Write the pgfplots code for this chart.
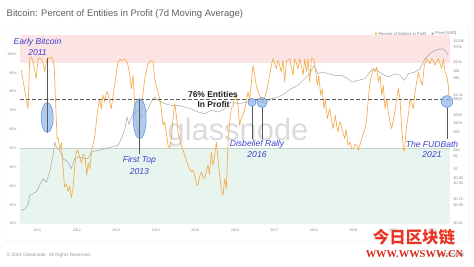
\documentclass[border=0pt]{standalone}
\usepackage{pgfplots}
\pgfplotsset{compat=1.18}
\usepackage{fontspec}
\setmainfont{Liberation Sans}
\newfontfamily\cjk{Noto Sans CJK SC}
\newfontfamily\serifb{Liberation Serif}
\definecolor{orangeline}{RGB}{243,174,82}
\definecolor{pricegray}{RGB}{158,158,158}
\definecolor{pinkband}{RGB}{252,228,228}
\definecolor{greenband}{RGB}{232,245,238}
\definecolor{greenline}{RGB}{195,212,202}
\definecolor{dashgray}{RGB}{95,95,95}
\definecolor{annblue}{RGB}{62,62,205}
\definecolor{ellfill}{RGB}{150,185,235}
\definecolor{elldraw}{RGB}{100,150,225}
\definecolor{wmred}{RGB}{232,52,36}
\definecolor{wmred2}{RGB}{215,38,26}
\pgfplotsset{
  base/.style={at={(20bp,42bp)}, anchor=south west, scale only axis,
    width=430bp, height=188.5bp, xmin=2010.562, xmax=2021.448},
  ticklab/.style={font=\fontsize{3.6}{4}\selectfont, text=black!45}
}
\begin{document}
\begin{tikzpicture}[x=1bp,y=1bp]
\path[use as bounding box] (0,0) rectangle (474,266);
\draw[black!8, rounded corners=2, line width=0.5] (5,25) rectangle (469,238);
\node[anchor=west, text=black!62, font=\fontsize{9.5}{11}\selectfont, inner sep=0] at (6.5,252) {Bitcoin: Percent of Entities in Profit (7d Moving Average)};

% axis 1: bands and left / bottom labels
\begin{axis}[base, ymin=9.8, ymax=109.8,
  axis line style={draw=none}, major tick length=0pt,
  xtick={2011,2012,2013,2014,2015,2016,2017,2018,2019,2020,2021},
  xticklabels={2011,2012,2013,2014,2015,2016,2017,2018,2019,2020,2021},
  ytick={10,20,30,40,50,60,70,80,90,100},
  yticklabels={10\%,20\%,30\%,40\%,50\%,60\%,70\%,80\%,90\%,100\%},
  tick label style={ticklab}, xticklabel style={yshift=-1.5bp}]
\fill[pinkband] (axis cs:2010.562,95) rectangle (axis cs:2021.448,109.8);
\fill[greenband] (axis cs:2010.562,9.8) rectangle (axis cs:2021.448,50);
\draw[greenline, line width=0.4] (axis cs:2010.562,50) -- (axis cs:2021.448,50);
\end{axis}

% glassnode watermark
\node[text=black!14, font=\fontsize{31}{34}\selectfont] at (238,133.5) {glassnode};

% axis 2: price (log, right)
\begin{axis}[base, ymode=log, ymin=0.01811, ymax=195700,
  axis x line=none, axis y line*=right, y axis line style={draw=none},
  major tick length=0pt,
  ytick={0.02,0.09,0.15,0.6,0.9,2,6,10,50,100,200,800,1200,5000,9000,20000,70000,120000},
  yticklabels={\$0.02,\$0.09,\$0.15,\$0.60,\$0.90,\$2,\$6,\$10,\$50,\$100,\$200,\$800,\$1.2k,\$5k,\$9k,\$20k,\$70k,\$120k},
  yticklabel style={font=\fontsize{3.8}{4}\selectfont, text=black!45}]
\addplot[pricegray, line width=0.45, line join=round] coordinates {
(2010.595,0.0588)(2010.689,0.0658)(2010.765,0.0927)(2010.808,0.213)(2010.899,0.253)
(2010.967,0.283)(2011.061,0.504)(2011.144,0.887)(2011.228,0.668)(2011.314,1.58)
(2011.397,6.62)(2011.441,20.8)(2011.481,13.5)(2011.567,10.2)(2011.651,4.95)
(2011.777,3.72)(2011.861,2.09)(2011.947,4.95)(2012.030,5.73)(2012.2,4.95)
(2012.284,4.95)(2012.367,8.81)(2012.537,10.2)(2012.706,11.7)(2012.873,13.5)
(2013.043,15.7)(2013.127,27.6)(2013.22,65)(2013.27,178)(2013.32,94)
(2013.42,230)(2013.55,298)(2013.68,178)(2013.803,363)(2013.929,857)
(2013.972,993)(2014.056,748)(2014.225,558)(2014.392,486)(2014.562,486)
(2014.732,421)(2014.899,363)(2015.068,274)(2015.238,236)(2015.405,316)
(2015.575,274)(2015.744,363)(2015.911,646)(2016.081,558)(2016.334,646)
(2016.587,748)(2016.757,558)(2016.924,857)(2017.094,993)(2017.263,1318)
(2017.430,2023)(2017.6,2711)(2017.77,4786)(2017.896,7345)(2018.005,15130)
(2018.106,7345)(2018.230,8511)(2018.354,7345)(2018.529,6397)(2018.696,6397)
(2018.866,4786)(2018.959,3597)(2019.127,4169)(2019.296,4786)(2019.423,8511)
(2019.506,11300)(2019.592,9840)(2019.719,7345)(2019.886,5534)(2020.056,7345)
(2020.182,6397)(2020.291,4169)(2020.392,7345)(2020.562,8511)(2020.689,11300)
(2020.815,26670)(2020.942,40930)(2021.068,54830)(2021.238,63000)(2021.322,54830)
(2021.405,35730)
};
\end{axis}

% axis 3: percent in profit
\begin{axis}[base, ymin=9.8, ymax=109.8, hide axis]
\addplot[orangeline, line width=0.7, line join=round] coordinates {
(2010.595,91.4)(2010.64,86)(2010.681,80.7)(2010.72,76)(2010.765,71)(2010.79,85)
(2010.808,97.5)(2010.85,98.5)(2010.891,96)(2010.93,92)(2010.975,86.9)(2011.0,93)
(2011.018,96.8)(2011.06,98)(2011.094,97.5)(2011.14,95.5)(2011.187,90.5)(2011.23,96)
(2011.27,98)(2011.322,97.5)(2011.36,98.3)(2011.397,97)(2011.43,93)(2011.46,76.3)
(2011.50,55)(2011.53,55.4)(2011.57,49.1)(2011.61,53)(2011.65,40.2)(2011.69,29.6)
(2011.74,31)(2011.78,27)(2011.82,30)(2011.86,23.6)(2011.90,27.9)(2011.94,38.5)
(2011.98,47.3)(2012.02,49.1)(2012.07,45.5)(2012.12,42)(2012.16,47)(2012.21,45.5)
(2012.25,35.8)(2012.29,42.2)(2012.33,39)(2012.38,49.1)(2012.46,57)(2012.494,63.9)
(2012.54,72)(2012.58,76.3)(2012.62,71)(2012.663,78.1)(2012.706,74.5)(2012.75,80)
(2012.79,78.9)(2012.83,75)(2012.873,71)(2012.92,78)(2012.959,83.4)(2013.0,90)
(2013.043,95.8)(2013.09,97)(2013.13,96.5)(2013.19,97.3)(2013.253,96.5)(2013.296,94)
(2013.34,89)(2013.38,81.6)(2013.423,88.7)(2013.466,72.8)(2013.51,64)(2013.55,57)
(2013.59,61)(2013.63,70)(2013.68,80)(2013.719,86.9)(2013.76,91)(2013.803,94.9)
(2013.845,95.8)(2013.88,96.5)(2013.929,95.8)(2013.972,86.9)(2014.01,83)(2014.056,79.8)
(2014.099,76.3)(2014.139,71)(2014.182,62.2)(2014.22,64)(2014.266,58.6)(2014.309,51.6)
(2014.352,49.8)(2014.392,55.1)(2014.435,65.7)(2014.478,73.6)(2014.519,67.5)(2014.562,58.6)
(2014.60,55)(2014.646,51.6)(2014.69,49)(2014.732,46.3)(2014.77,44)(2014.815,41)
(2014.86,39)(2014.899,37.4)(2014.94,38.5)(2014.985,35.6)(2015.03,31)(2015.068,30.3)
(2015.11,35)(2015.152,37.4)(2015.19,35)(2015.238,33.8)(2015.28,38)(2015.322,41)
(2015.36,36)(2015.405,48)(2015.448,41)(2015.49,46)(2015.532,53.3)(2015.575,44.5)
(2015.62,35)(2015.658,28.5)(2015.701,25)(2015.744,33.8)(2015.785,28.5)(2015.828,53.3)
(2015.871,63.9)(2015.911,71)(2015.96,73)(2015.997,76.3)(2016.038,78.1)(2016.081,72.8)
(2016.12,62.2)(2016.165,66)(2016.208,67.5)(2016.25,71)(2016.291,74.5)(2016.334,79.8)
(2016.377,76.3)(2016.42,85)(2016.461,94)(2016.504,88.7)(2016.544,83.4)(2016.59,80)
(2016.63,78.1)(2016.67,76)(2016.714,74.5)(2016.76,77)(2016.797,79.8)(2016.84,84)
(2016.884,88.7)(2016.924,94)(2016.967,97.5)(2017.01,95)(2017.051,92.2)(2017.094,96.7)
(2017.135,94)(2017.177,90.5)(2017.22,96.7)(2017.263,85.1)(2017.304,95.8)(2017.35,97)
(2017.39,97.5)(2017.43,93)(2017.473,88.7)(2017.516,97.5)(2017.56,95)(2017.6,92.2)
(2017.643,97.5)(2017.685,94)(2017.727,88.7)(2017.77,97.5)(2017.81,90.5)(2017.853,97.5)
(2017.896,85.1)(2017.937,97.5)(2017.97,97.8)(2018.005,96.7)(2018.038,92.2)(2018.089,83.4)
(2018.124,88.7)(2018.175,78.1)(2018.208,81.6)(2018.258,71)(2018.291,76.3)(2018.342,65.7)
(2018.403,71)(2018.45,64)(2018.486,60.4)(2018.544,67.5)(2018.58,62)(2018.613,58.6)
(2018.655,64)(2018.696,62.2)(2018.74,58)(2018.782,55.1)(2018.82,60)(2018.866,51.6)
(2018.916,53.3)(2018.96,49.5)(2019.0,49.8)(2019.043,52)(2019.086,51.6)(2019.127,48.9)
(2019.17,52)(2019.213,55.1)(2019.255,58)(2019.296,60.4)(2019.339,65.7)(2019.38,76.3)
(2019.423,85.1)(2019.465,89)(2019.506,92.2)(2019.549,90.5)(2019.592,93.1)(2019.633,85.1)
(2019.676,88.7)(2019.719,78.1)(2019.759,83.4)(2019.803,71)(2019.846,76.3)(2019.886,69.2)
(2019.929,63.9)(2019.972,60.4)(2020.005,64)(2020.038,67.5)(2020.07,72)(2020.099,76.3)
(2020.139,81.6)(2020.182,76.3)(2020.225,60.4)(2020.266,49.8)(2020.291,48.4)(2020.32,55)
(2020.352,62.2)(2020.392,67.5)(2020.435,76.3)(2020.477,74)(2020.519,71)(2020.562,79.8)
(2020.605,85.1)(2020.646,90.5)(2020.689,86.9)(2020.747,83.4)(2020.797,94)(2020.858,97.5)
(2020.90,96)(2020.942,94.9)(2020.984,97.5)(2021.026,96.5)(2021.068,94)(2021.11,96)
(2021.152,97.5)(2021.195,95)(2021.238,92.2)(2021.278,97.5)(2021.322,90.5)(2021.365,88.7)
(2021.405,83.4)(2021.423,76.3)(2021.44,74.5)
};
\draw[dashgray, dash pattern=on 3.5bp off 2.5bp, line width=0.75] (axis cs:2010.562,76) -- (axis cs:2021.448,76);
\end{axis}

% legend
\fill[orangeline] (376,232.4) circle (1.3);
\node[anchor=west, inner sep=0, text=black!50, font=\fontsize{4.1}{5}\selectfont] at (378.3,232.4) {Percent of Entities in Profit};
\fill[pricegray] (432.5,232.4) circle (1.3);
\node[anchor=west, inner sep=0, text=black!50, font=\fontsize{4.1}{5}\selectfont] at (434.8,232.4) {Price [USD]};

% annotations
\tikzset{ell/.style={fill=ellfill, fill opacity=0.75, draw=elldraw, line width=0.6},
  annline/.style={black!65, line width=0.7},
  anntext/.style={text=annblue, font=\fontsize{8.6}{10}\itshape, inner sep=0}}
\draw[ell] (47.2,148.5) ellipse (6 and 15);
\draw[annline] (47.5,208) -- (47.5,134);
\fill[black!70] (47.5,167) circle (1);
\node[anntext] at (37.5,224) {Early Bitcoin};
\node[anntext] at (37.5,213.3) {2011};

\draw[ell] (139.7,147.3) ellipse (6.5 and 20);
\draw[annline] (139.4,167) -- (139.4,112);
\node[anntext] at (139.3,105.3) {First Top};
\node[anntext] at (139.3,94.7) {2013};

\node[text=black!88, font=\fontsize{8.5}{10}\bfseries, inner sep=0] at (213,171.7) {76\% Entities};
\node[text=black!88, font=\fontsize{8.5}{10}\bfseries, inner sep=0] at (213.5,161.7) {In Profit};

\draw[annline] (252,160) -- (252,127);
\draw[annline] (262,159) -- (262,127);
\draw[ell] (252,163.7) circle (4);
\draw[ell] (262,163.5) circle (5);
\node[anntext] at (257,122) {Disbelief Rally};
\node[anntext] at (257,111) {2016};

\draw[annline] (447,159) -- (447,127);
\draw[ell] (447,164.5) circle (5.8);
\node[anntext] at (432,122) {The FUDBath};
\node[anntext] at (432,111) {2021};

% footer
\node[anchor=west, inner sep=0, text=black!40, font=\fontsize{4.7}{5}\selectfont] at (6.7,11) {\textcopyright\ 2021 Glassnode. All Rights Reserved.};
\node[text=black!40, font=\fontsize{6}{7}\selectfont] at (451,11.5) {glassnode};
\node[text=wmred, font=\fontsize{16.5}{18}\cjk\bfseries, inner sep=0] at (414,28.5) {今日区块链};
\node[text=wmred2, font=\fontsize{10.5}{12}\serifb\bfseries, inner sep=0] at (414.5,12) {WWW.WWSWW.CN};
\end{tikzpicture}
\end{document}
